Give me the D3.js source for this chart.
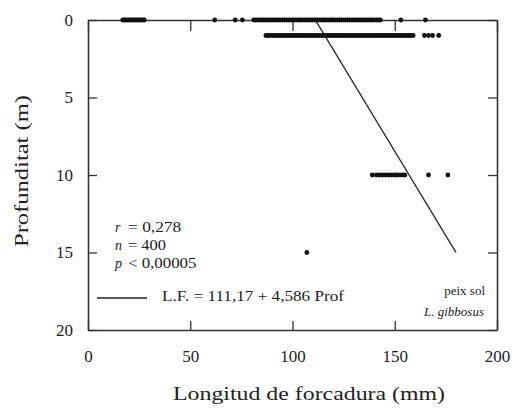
<!DOCTYPE html>
<html>
<head>
<meta charset="utf-8">
<script src="https://cdn.jsdelivr.net/npm/d3@7"></script>
<style>
  html, body { margin: 0; padding: 0; background: #fff; }
  svg { display: block; }
  text { font-family: "Liberation Serif", "DejaVu Serif", serif; fill: #222; }
</style>
</head>
<body>
<svg id="chart" width="513" height="408"></svg>
<script>
// Fork length (mm) of pumpkinseed sunfish recorded at each sampling depth (m)
const depthLevels = [0, 1, 10, 15];
const lengthsAt0 = [
  17, 17.8, 18.5, 19.2, 20, 20.7, 21.5, 22.3, 23, 23.8, 24.5, 25.3, 26, 26.8, 27.5,
  62, 72, 75.5,
  81, 82, 83, 84, 85, 86, 87, 88, 89, 90, 91, 92, 93, 94, 95, 96, 97, 98, 99, 100,
  101, 102, 103, 104, 105, 106, 107, 108, 109, 110, 111, 112, 113, 114, 115, 116,
  117, 118, 119, 120, 121, 122, 123, 124, 125, 126, 127, 128, 129, 130, 131, 132,
  133, 134, 135, 136, 137, 138, 139, 140, 141, 142, 143,
  153, 165
];
const lengthsAt1 = [
  87, 88, 89, 90, 91, 92, 93, 94, 95, 96, 97, 98, 99, 100, 101, 102, 103, 104, 105,
  106, 107, 108, 109, 110, 111, 112, 113, 114, 115, 116, 117, 118, 119, 120, 121,
  122, 123, 124, 125, 126, 127, 128, 129, 130, 131, 132, 133, 134, 135, 136, 137,
  138, 139, 140, 141, 142, 143, 144, 145, 146, 147, 148, 149, 150, 151, 152, 153,
  154, 155, 156, 157, 158, 159,
  164.5, 166.5, 168.5, 171.5
];
const lengthsAt10 = [139, 141, 142.5, 144, 145.5, 147, 148.5, 150, 151, 152.5, 154, 155, 166.5, 176];
const lengthsAt15 = [107];

// Linear fit: L.F. = 111.17 + 4.586 * Prof
const fitIntercept = 111.17;
const fitSlope = 4.586;
const fitDepthRange = [0, 15];

const xTicks = [0, 50, 100, 150, 200];
const yTicks = [0, 5, 10, 15, 20];

const statsLines = [
  { sym: "r", rel: "= 0,278" },
  { sym: "n", rel: "= 400" },
  { sym: "p", rel: "< 0,00005" }
];
const fitLabel = "L.F. = 111,17 + 4,586 Prof";
const speciesCommon = "peix sol";
const speciesLatin = "L. gibbosus";
const xTitle = "Longitud de forcadura (mm)";
const yTitle = "Profunditat (m)";

const svg = d3.select("#chart");
const m = { left: 88, top: 20, right: 16, bottom: 78 };
const W = 513, H = 408;

const x = d3.scaleLinear().domain([0, 200]).range([m.left, W - m.right]);
const y = d3.scaleLinear().domain([0, 20]).range([m.top, H - m.bottom]);

const axisColor = "#333";
const tick = 9;

function styleAxis(g) {
  g.selectAll("path.domain").attr("stroke", axisColor).attr("stroke-width", 1.6);
  g.selectAll(".tick line").attr("stroke", axisColor).attr("stroke-width", 1.3);
  g.selectAll("text")
    .style("font-family", '"Liberation Serif", serif')
    .style("font-size", "17px")
    .attr("fill", "#222");
}

// Frame: labelled bottom and left, inward ticks on all four sides
svg.append("g").attr("transform", `translate(0,${y(20)})`)
  .call(d3.axisBottom(x).tickValues(xTicks).tickSizeInner(-tick).tickSizeOuter(0).tickPadding(20))
  .call(styleAxis)
  .call(g => g.selectAll("text").attr("dy", "0.71em"));

svg.append("g").attr("transform", `translate(${x(0)},0)`)
  .call(d3.axisLeft(y).tickValues(yTicks).tickSizeInner(-tick).tickSizeOuter(0).tickPadding(15))
  .call(styleAxis);

svg.append("g").attr("transform", `translate(0,${y(0)})`)
  .call(d3.axisTop(x).tickValues(xTicks).tickSizeInner(-tick - 2).tickSizeOuter(0).tickFormat(""))
  .call(styleAxis);

svg.append("g").attr("transform", `translate(${x(200)},0)`)
  .call(d3.axisRight(y).tickValues(yTicks).tickSizeInner(-tick).tickSizeOuter(0).tickFormat(""))
  .call(styleAxis);

// Observations
const points = [];
[lengthsAt0, lengthsAt1, lengthsAt10, lengthsAt15].forEach((arr, i) => {
  arr.forEach(v => points.push({ len: v, depth: depthLevels[i] }));
});

svg.append("g").selectAll("circle")
  .data(points)
  .join("circle")
  .attr("cx", d => x(d.len))
  .attr("cy", d => y(d.depth))
  .attr("r", 2.4)
  .attr("fill", "#111");

// Fitted line
const line = d3.line().x(d => x(fitIntercept + fitSlope * d)).y(d => y(d));
svg.append("path")
  .attr("d", line(fitDepthRange))
  .attr("fill", "none")
  .attr("stroke", "#222")
  .attr("stroke-width", 1.4);

// Statistics block
const stats = svg.append("g").style("font-size", "14px");
statsLines.forEach((s, i) => {
  const by = 232 + i * 18;
  stats.append("text").attr("x", 115).attr("y", by)
    .style("font-style", "italic").text(s.sym);
  stats.append("text").attr("x", 128).attr("y", by)
    .attr("textLength", s.rel.length * 7.6).attr("lengthAdjust", "spacingAndGlyphs")
    .text(s.rel);
});

// Legend for fitted line
svg.append("line")
  .attr("x1", 97).attr("x2", 147).attr("y1", 298).attr("y2", 298)
  .attr("stroke", "#222").attr("stroke-width", 1.3);
svg.append("text").attr("x", 162).attr("y", 301)
  .style("font-size", "14px")
  .attr("textLength", 182).attr("lengthAdjust", "spacingAndGlyphs")
  .text(fitLabel);

// Species label
svg.append("text").attr("x", 485).attr("y", 295)
  .attr("text-anchor", "end").style("font-size", "13px")
  .text(speciesCommon);
svg.append("text").attr("x", 484).attr("y", 316)
  .attr("text-anchor", "end").style("font-size", "13px").style("font-style", "italic")
  .text(speciesLatin);

// Axis titles
svg.append("text").attr("x", 309).attr("y", 400)
  .attr("text-anchor", "middle").style("font-size", "19px")
  .attr("textLength", 272).attr("lengthAdjust", "spacingAndGlyphs")
  .text(xTitle);

svg.append("text")
  .attr("transform", `translate(28,171) rotate(-90)`)
  .attr("text-anchor", "middle").style("font-size", "19px")
  .attr("textLength", 152).attr("lengthAdjust", "spacingAndGlyphs")
  .text(yTitle);
</script>
</body>
</html>
